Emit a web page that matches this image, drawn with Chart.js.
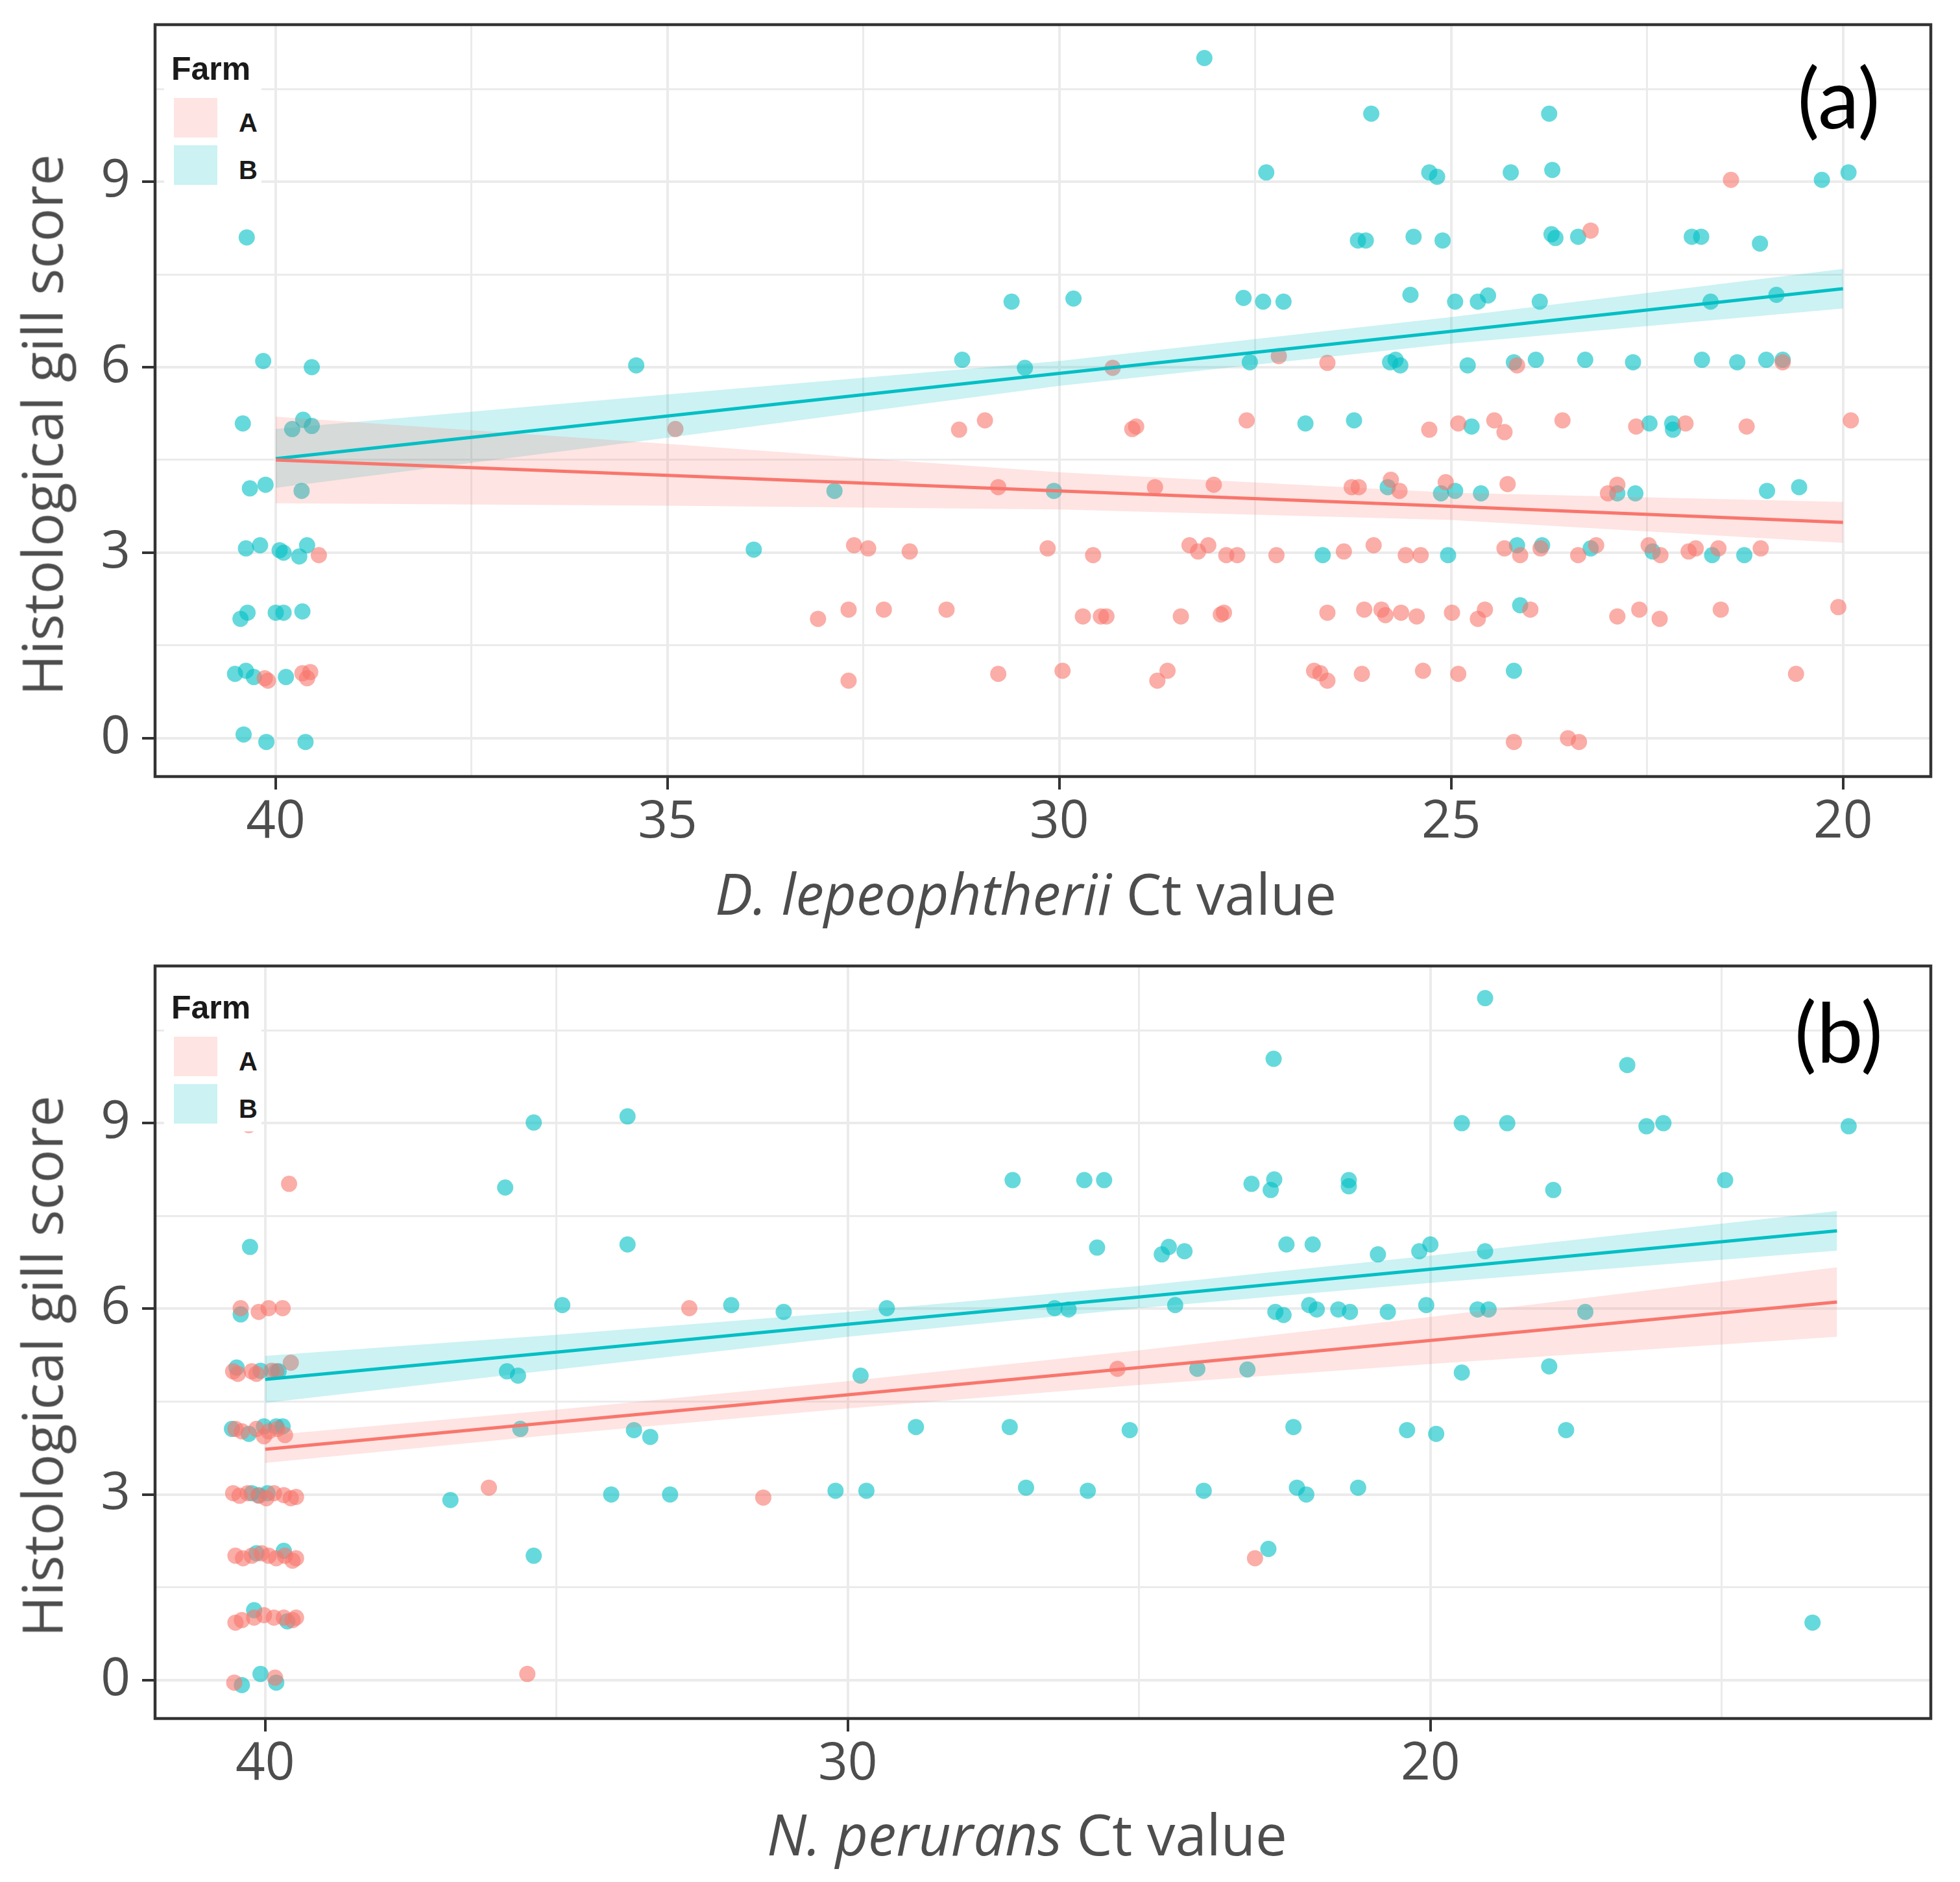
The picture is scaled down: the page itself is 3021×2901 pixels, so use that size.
<!DOCTYPE html>
<html>
<head>
<meta charset="utf-8">
<script src="https://cdn.jsdelivr.net/npm/chart.js@4.4.1/dist/chart.umd.min.js"></script>
<style>
  body { margin: 0; background: #fff; }
  #page { position: relative; width: 3021px; height: 2901px; overflow: hidden; background: #fff; }
  canvas { position: absolute; left: 0; }
  .txt { position: absolute; white-space: nowrap; line-height: 1; }
  .ytitle { font: 86px "Open Sans", sans-serif; color: #4d4d4d; transform: translate(-50%, -50%) rotate(-90deg); }
  .xtitle { font: 87px "Open Sans", sans-serif; color: #4d4d4d; text-align: center; width: 2740px; }
  .legend { position: absolute; background: #fff; width: 150px; height: 242px; }
  .key { position: absolute; width: 67px; height: 61px; }
  .ltitle { font: bold 50px "Liberation Sans", Arial, sans-serif; color: #1a1a1a; }
  .llab { font: bold 40px "Liberation Sans", Arial, sans-serif; color: #1a1a1a; }
  .panel { font: 128px Lato, sans-serif; color: #000; width: 280px; text-align: center; }
</style>
</head>
<body>
<div id="page">
  <canvas id="chartA" width="3021" height="1460" style="top:0px"></canvas>
  <canvas id="chartB" width="3021" height="1441" style="top:1460px"></canvas>

  <!-- panel (a) text -->
  <div class="txt ytitle" style="left:63px; top:655px;">Histological gill score</div>
  <div class="txt xtitle" style="left:211px; top:1317px;"><i>D. lepeophtherii</i> Ct value</div>
  <div class="legend" style="left:253px; top:55px;">
    <div class="txt ltitle" style="left:11px; top:22px;">Farm</div>
    <div class="key" style="left:15px; top:96px; background:rgba(248,118,109,0.2);"></div>
    <div class="key" style="left:15px; top:169px; background:rgba(0,191,196,0.2);"></div>
    <div class="txt llab" style="left:115px; top:112px;">A</div>
    <div class="txt llab" style="left:115px; top:185px;">B</div>
  </div>
  <div class="txt panel" style="left:2694px; top:72px;">(a)</div>

  <!-- panel (b) text -->
  <div class="txt ytitle" style="left:63px; top:2106px;">Histological gill score</div>
  <div class="txt xtitle" style="left:213px; top:2767px;"><i>N. perurans</i> Ct value</div>
  <div class="legend" style="left:253px; top:1502px;">
    <div class="txt ltitle" style="left:11px; top:22px;">Farm</div>
    <div class="key" style="left:15px; top:96px; background:rgba(248,118,109,0.2);"></div>
    <div class="key" style="left:15px; top:169px; background:rgba(0,191,196,0.2);"></div>
    <div class="txt llab" style="left:115px; top:112px;">A</div>
    <div class="txt llab" style="left:115px; top:185px;">B</div>
  </div>
  <div class="txt panel" style="left:2694px; top:1512px;">(b)</div>
</div>

<script>
// y axis (shared): grid positions and labelled ticks
const yTicks = [0, 1.5, 3, 4.5, 6, 7.5, 9, 10.5];
const yLabels = [0, 3, 6, 9];

// panel (a) x axis
const xTicksDl = [40, 37.5, 35, 32.5, 30, 27.5, 25, 22.5, 20];
const xLabelsDl = [40, 35, 30, 25, 20];
// panel (b) x axis
const xTicksNp = [40, 35, 30, 25, 20, 15];
const xLabelsNp = [40, 30, 20];

// panel (a): D. lepeophtherii Ct vs score, farm A (jittered points as drawn)
const dlFarmA = [
  [39.45,2.96],[40.14,0.97],[40.10,0.93],[39.66,1.05],[39.56,1.07],[39.60,0.97],[34.90,5.00],
  [29.32,5.99],[27.20,6.18],[26.58,6.07],[31.28,4.99],[30.95,5.14],[29.07,5.00],[29.02,5.04],[27.61,5.14],
  [30.78,4.06],[28.78,4.06],[28.03,4.10],
  [32.62,3.12],[32.44,3.07],[31.91,3.02],[30.15,3.07],[29.57,2.96],[28.34,3.12],[28.23,3.02],[28.10,3.12],[27.87,2.96],[27.73,2.96],[27.23,2.96],
  [33.08,1.93],[32.69,2.08],[32.24,2.08],[31.44,2.08],[29.70,1.97],[29.47,1.97],[29.40,1.97],[28.45,1.97],[27.94,2.00],[27.90,2.03],[26.58,2.03],[26.11,2.08],
  [32.69,0.93],[30.78,1.04],[29.96,1.09],[28.75,0.93],[28.62,1.09],[26.75,1.09],[26.67,1.05],[26.58,0.93],[26.14,1.04],
  [23.22,8.21],[21.43,9.03],[24.16,6.03],[20.77,6.08],
  [25.28,4.99],[24.91,5.09],[24.45,5.14],[24.32,4.95],[23.58,5.14],[22.64,5.04],[22.01,5.09],[21.23,5.04],[19.90,5.14],
  [26.27,4.06],[26.18,4.06],[25.77,4.18],[25.66,4.00],[25.07,4.14],[24.28,4.11],[23.00,3.96],[22.88,4.10],
  [26.37,3.02],[25.99,3.12],[25.58,2.96],[25.39,2.96],[24.32,3.07],[24.12,2.96],[23.86,3.07],[23.38,2.96],[23.15,3.12],[22.48,3.12],[22.33,2.96],[21.97,3.02],[21.88,3.07],[21.59,3.07],[21.05,3.07],
  [25.89,2.08],[25.84,1.99],[25.64,2.03],[25.44,1.97],[24.99,2.03],[24.66,1.93],[24.57,2.08],[23.99,2.08],[22.88,1.97],[22.60,2.08],[22.34,1.93],[21.56,2.08],[20.06,2.12],
  [25.36,1.09],[24.91,1.04],[20.60,1.04],
  [24.20,-0.06],[23.51,0.00],[23.37,-0.06]
];
// panel (a), farm B
const dlFarmB = [
  [40.37,8.10],[40.16,6.10],[39.54,6.00],[40.42,5.09],[39.79,5.00],[39.65,5.15],[39.54,5.05],[39.67,4.00],[40.33,4.04],[40.13,4.10],
  [40.38,3.07],[40.20,3.12],[39.95,3.04],[39.90,3.00],[39.70,2.94],[39.60,3.12],
  [40.45,1.93],[40.36,2.03],[40.00,2.03],[39.90,2.03],[39.66,2.05],
  [40.52,1.04],[40.38,1.09],[40.28,0.99],[39.87,0.99],
  [40.41,0.06],[40.12,-0.06],[39.62,-0.06],
  [35.40,6.03],[33.90,3.05],
  [28.15,11.00],[27.36,9.15],[30.61,7.06],[29.82,7.11],[27.65,7.12],[27.40,7.06],[27.14,7.06],[31.24,6.12],[30.44,5.99],[27.57,6.08],[26.86,5.09],[26.24,5.14],[32.87,4.00],[30.07,4.00],[26.64,2.96],
  [26.02,10.10],[23.75,10.10],
  [25.28,9.15],[25.18,9.08],[24.24,9.15],[23.71,9.19],[20.27,9.03],[19.93,9.15],
  [26.19,8.05],[26.09,8.05],[25.48,8.11],[25.11,8.05],[23.72,8.15],[23.67,8.09],[23.38,8.11],[21.93,8.11],[21.81,8.11],[21.06,8.00],
  [25.52,7.17],[24.95,7.06],[24.66,7.06],[24.53,7.16],[23.87,7.06],[21.69,7.06],[20.85,7.17],
  [25.78,6.08],[25.71,6.12],[25.65,6.03],[24.79,6.03],[24.20,6.08],[23.92,6.12],[23.29,6.12],[22.68,6.08],[21.80,6.12],[21.35,6.08],[20.98,6.12],[20.77,6.12],
  [24.74,5.04],[22.47,5.09],[22.18,5.09],[22.17,4.99],
  [25.81,4.06],[25.13,3.96],[24.95,4.00],[24.62,3.96],[22.88,3.96],[22.65,3.96],[20.97,4.00],[20.56,4.06],
  [24.16,3.12],[23.84,3.12],[23.22,3.07],[22.43,3.02],[21.67,2.96],[21.26,2.96],[25.04,2.96],
  [24.12,2.15],[24.20,1.09]
];

// panel (b): N. perurans Ct vs score, farm A
const npFarmA = [
  [40.28,8.97],[39.59,8.02],[40.42,6.01],[40.11,5.95],[39.94,6.01],[39.70,6.01],
  [40.55,4.99],[40.47,4.95],[40.23,4.99],[40.15,4.95],[39.89,5.00],[39.81,4.99],[39.56,5.13],
  [40.51,4.06],[40.40,4.02],[40.15,4.06],[40.02,3.94],[39.94,4.02],[39.79,4.06],[39.66,3.96],
  [40.55,3.02],[40.44,2.98],[40.30,3.02],[40.11,2.98],[39.98,2.94],[39.85,3.02],[39.68,2.99],[39.56,2.94],[39.47,2.96],
  [40.51,2.01],[40.38,1.97],[40.23,2.01],[40.06,2.05],[39.94,2.01],[39.81,1.97],[39.66,2.01],[39.53,1.93],[39.47,1.97],
  [40.51,0.93],[40.40,0.97],[40.19,1.01],[40.02,1.05],[39.85,1.01],[39.68,1.01],[39.53,0.97],[39.47,1.01],
  [40.53,-0.04],[39.83,0.04],
  [36.16,3.11],[35.50,0.10],[32.72,6.01],[25.37,5.03],[31.45,2.95],[23.01,1.97]
];
// panel (b), farm B
const npFarmB = [
  [40.26,7.00],[40.42,5.91],[35.88,7.96],
  [40.49,5.05],[40.08,5.00],[39.77,4.99],[35.85,4.99],[35.66,4.92],
  [40.57,4.06],[40.28,3.98],[40.02,4.10],[39.81,4.10],[39.70,4.10],[35.62,4.06],
  [40.23,3.02],[40.11,2.99],[39.96,3.02],[36.82,2.91],
  [40.15,2.05],[39.68,2.09],[35.39,2.01],
  [40.19,1.13],[39.62,0.95],
  [40.40,-0.08],[40.08,0.10],[39.81,-0.04],
  [35.39,9.01],[33.78,9.11],[33.78,7.04],[27.17,8.08],[25.94,8.08],[25.60,8.08],[25.72,6.99],[24.61,6.88],[24.49,7.00],[24.22,6.93],
  [34.90,6.06],[32.00,6.06],[31.10,5.95],[29.33,6.01],[26.45,6.01],[26.21,5.99],[24.38,6.06],
  [29.78,4.92],[24.00,5.03],
  [33.67,4.04],[33.39,3.93],[28.83,4.09],[27.22,4.09],[25.16,4.04],
  [34.06,3.00],[33.05,3.00],[30.21,3.06],[29.68,3.06],[26.94,3.11],[25.88,3.06],[23.89,3.06],
  [19.06,11.02],[22.69,10.04],[16.62,9.94],[19.46,9.00],[18.68,9.00],[16.29,8.95],[16.00,9.00],[12.82,8.95],
  [23.07,8.02],[22.74,7.92],[22.68,8.09],[21.40,8.08],[21.40,7.98],[17.89,7.92],[14.94,8.08],
  [22.47,7.04],[22.02,7.04],[20.90,6.88],[20.19,6.93],[20.00,7.04],[19.06,6.93],
  [22.66,5.95],[22.52,5.90],[22.08,6.06],[21.95,5.99],[21.58,5.99],[21.38,5.95],[20.73,5.95],[20.07,6.06],[19.19,5.99],[19.00,5.99],[17.34,5.95],
  [23.14,5.02],[19.46,4.97],[17.96,5.07],
  [22.35,4.09],[20.40,4.04],[19.90,3.98],[17.67,4.04],
  [22.29,3.11],[22.13,3.00],[21.24,3.11],[22.78,2.12],[13.44,0.93]
];

// fitted lines with confidence band, read at these x positions
const fitXDl = [40, 35, 30, 25, 20];
const fitADl = [4.50, 4.25, 4.00, 3.75, 3.49];
const loADl  = [3.80, 3.76, 3.70, 3.53, 3.16];
const hiADl  = [5.20, 4.76, 4.30, 3.97, 3.82];
const fitBDl = [4.52, 5.21, 5.90, 6.58, 7.27];
const loBDl  = [4.05, 4.86, 5.70, 6.38, 6.95];
const hiBDl  = [5.00, 5.56, 6.10, 6.81, 7.59];

const fitXNp = [40, 35, 30, 25, 20, 13.02];
const fitANp = [3.73, 4.17, 4.61, 5.05, 5.49, 6.11];
const loANp  = [3.51, 3.97, 4.39, 4.77, 5.11, 5.55];
const hiANp  = [3.95, 4.37, 4.83, 5.33, 5.87, 6.67];
const fitBNp = [4.86, 5.30, 5.75, 6.19, 6.64, 7.26];
const loBNp  = [4.48, 5.02, 5.55, 6.01, 6.42, 6.94];
const hiBNp  = [5.24, 5.58, 5.95, 6.37, 6.86, 7.58];

const colA = '#F8766D', colB = '#00BFC4';
const ptA = 'rgba(248,118,109,0.6)', ptB = 'rgba(0,191,196,0.6)';
const bandA = 'rgba(248,118,109,0.2)', bandB = 'rgba(0,191,196,0.2)';

function pts(arr) { return arr.map(p => ({x: p[0], y: p[1]})); }
function line(xs, ys) { return xs.map((x, i) => ({x: x, y: ys[i]})); }

// ggplot-like full panel border
const panelBorder = {
  id: 'panelBorder',
  afterDraw(chart) {
    const ctx = chart.ctx, a = chart.chartArea;
    ctx.save();
    ctx.strokeStyle = '#333333';
    ctx.lineWidth = 4.5;
    ctx.strokeRect(a.left, a.top, a.right - a.left, a.bottom - a.top);
    ctx.restore();
  }
};

function makePanel(id, o) {
  const isMajor = (c, labels) => c.tick && labels.includes(c.tick.value);
  return new Chart(document.getElementById(id), {
    type: 'scatter',
    data: {
      datasets: [
        // bands (lower then upper filled to lower)
        { data: line(o.fx, o.loA), showLine: true, borderWidth: 0, pointRadius: 0, fill: false, order: 2 },
        { data: line(o.fx, o.hiA), showLine: true, borderWidth: 0, pointRadius: 0, fill: '-1', backgroundColor: bandA, order: 2 },
        { data: line(o.fx, o.loB), showLine: true, borderWidth: 0, pointRadius: 0, fill: false, order: 2 },
        { data: line(o.fx, o.hiB), showLine: true, borderWidth: 0, pointRadius: 0, fill: '-1', backgroundColor: bandB, order: 2 },
        // fit lines
        { data: line(o.fx, o.fitA), showLine: true, borderColor: colA, borderWidth: 5, pointRadius: 0, fill: false, order: 1 },
        { data: line(o.fx, o.fitB), showLine: true, borderColor: colB, borderWidth: 5, pointRadius: 0, fill: false, order: 1 },
        // points
        { label: 'A', data: pts(o.ptsA), backgroundColor: ptA, borderWidth: 0, pointRadius: 12.5, order: 3 },
        { label: 'B', data: pts(o.ptsB), backgroundColor: ptB, borderWidth: 0, pointRadius: 12.5, order: 4 }
      ]
    },
    options: {
      responsive: false,
      animation: false,
      devicePixelRatio: 1,
      layout: { padding: { top: o.padTop, right: 45, bottom: 0, left: 0 }, autoPadding: false },
      plugins: { legend: { display: false }, tooltip: { enabled: false } },
      scales: {
        x: {
          type: 'linear', reverse: true, min: o.xMin, max: o.xMax,
          afterBuildTicks: s => { s.ticks = o.xTicks.map(v => ({ value: v })); },
          afterFit: s => { s.height = o.xAxisH; s.paddingLeft = 0; s.paddingRight = 0; },
          border: { display: false },
          grid: {
            color: '#ebebeb',
            lineWidth: c => isMajor(c, o.xLabels) ? 4 : 3,
            tickLength: 20, tickWidth: 4,
            tickColor: c => isMajor(c, o.xLabels) ? '#333333' : 'rgba(0,0,0,0)'
          },
          ticks: {
            autoSkip: false, maxRotation: 0, padding: 3,
            color: '#4d4d4d', font: { family: 'Open Sans', size: 80 },
            callback: v => o.xLabels.includes(v) ? String(v) : ''
          }
        },
        y: {
          type: 'linear', min: -0.62, max: 11.54,
          afterBuildTicks: s => { s.ticks = yTicks.map(v => ({ value: v })); },
          afterFit: s => { s.width = 239; s.paddingTop = 0; s.paddingBottom = 0; },
          border: { display: false },
          grid: {
            color: '#ebebeb',
            lineWidth: c => isMajor(c, yLabels) ? 4 : 3,
            tickLength: 20, tickWidth: 4,
            tickColor: c => isMajor(c, yLabels) ? '#333333' : 'rgba(0,0,0,0)'
          },
          ticks: {
            autoSkip: false, padding: 18,
            color: '#4d4d4d', font: { family: 'Open Sans', size: 80 },
            callback: v => yLabels.includes(v) ? String(v) : ''
          }
        }
      }
    },
    plugins: [panelBorder]
  });
}

makePanel('chartA', {
  padTop: 38, xAxisH: 263, xMin: 18.88, xMax: 41.54,
  xTicks: xTicksDl, xLabels: xLabelsDl,
  ptsA: dlFarmA, ptsB: dlFarmB,
  fx: fitXDl, fitA: fitADl, loA: loADl, hiA: hiADl, fitB: fitBDl, loB: loBDl, hiB: hiBDl
});

makePanel('chartB', {
  padTop: 29, xAxisH: 252, xMin: 11.41, xMax: 41.89,
  xTicks: xTicksNp, xLabels: xLabelsNp,
  ptsA: npFarmA, ptsB: npFarmB,
  fx: fitXNp, fitA: fitANp, loA: loANp, hiA: hiANp, fitB: fitBNp, loB: loBNp, hiB: hiBNp
});
</script>
</body>
</html>
